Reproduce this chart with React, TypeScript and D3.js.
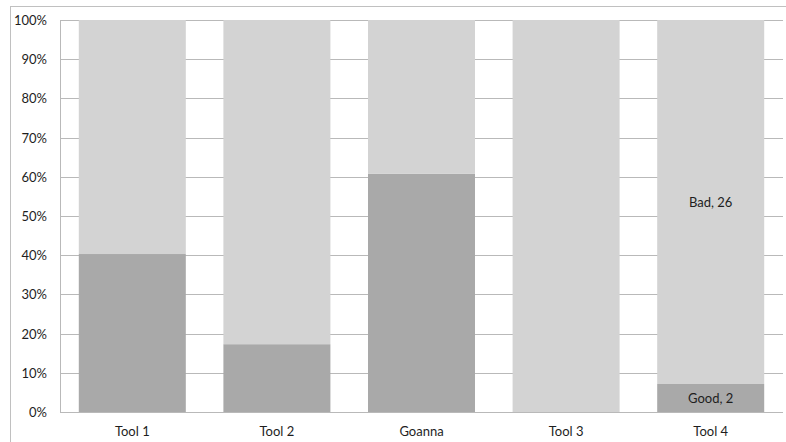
import React from "react";
import * as d3 from "d3";

// Tools compared and their good / bad result amounts (stacked to 100%)
const categories = ["Tool 1", "Tool 2", "Goanna", "Tool 3", "Tool 4"];
const goodValues = [40.3, 17.3, 60.8, 0, 2];
const badValues = [59.7, 82.7, 39.2, 100, 26];
const yTicks = [0, 0.1, 0.2, 0.3, 0.4, 0.5, 0.6, 0.7, 0.8, 0.9, 1];
// Only the last bar carries data labels
const labelledIndex = 4;

const W = 786;
const H = 442;
const margin = { left: 60, right: 3, top: 20, bottom: 30 };

const GOOD_COLOR = "#a9a9a9";
const BAD_COLOR = "#d3d3d3";
const GRID_COLOR = "#b9b9b9";
const FONT = "Lato, 'Open Sans', sans-serif";
const FONT_SIZE = 13;

export default function App() {
  const x = d3
    .scaleBand<string>()
    .domain(categories)
    .range([margin.left, W - margin.right])
    .paddingInner(0.26)
    .paddingOuter(0.13);
  const y = d3.scaleLinear().domain([0, 1]).range([H - margin.bottom, margin.top]);

  const rows = categories.map((c, i) => ({
    cat: c,
    good: goodValues[i],
    bad: badValues[i],
  }));
  const stack = d3
    .stack<{ cat: string; good: number; bad: number }>()
    .keys(["good", "bad"])
    .offset(d3.stackOffsetExpand);
  const series = stack(rows);
  const colors = [GOOD_COLOR, BAD_COLOR];
  const names = ["Good", "Bad"];

  const x0 = margin.left;
  const x1 = W - margin.right;

  return (
    <svg
      width={W}
      height={H}
      style={{ position: "absolute", left: 0, top: 0, background: "#fff" }}
      fontFamily={FONT}
    >
      {/* chart frame */}
      <rect x={10.5} y={6.5} width={W + 20} height={H + 20} fill="none" stroke="#c0c0c0" />

      {/* gridlines */}
      {yTicks.map((t) => (
        <line
          key={t}
          x1={x0}
          x2={x1}
          y1={Math.round(y(t)) + 0.5}
          y2={Math.round(y(t)) + 0.5}
          stroke={GRID_COLOR}
          strokeWidth={1}
        />
      ))}

      {/* bars */}
      {series.map((s, si) =>
        s.map((d, i) => {
          const top = y(d[1]);
          const bottom = y(d[0]);
          if (bottom - top <= 0) return null;
          return (
            <rect
              key={`${si}-${i}`}
              x={x(categories[i])}
              y={top}
              width={x.bandwidth()}
              height={bottom - top}
              fill={colors[si]}
            />
          );
        })
      )}

      {/* data labels */}
      {series.map((s, si) => {
        const d = s[labelledIndex];
        const cx = (x(categories[labelledIndex]) as number) + x.bandwidth() / 2;
        const cy = (y(d[0]) + y(d[1])) / 2;
        const v = si === 0 ? goodValues[labelledIndex] : badValues[labelledIndex];
        return (
          <text
            key={`lab-${si}`}
            x={cx}
            y={cy}
            textAnchor="middle"
            dominantBaseline="central"
            fontSize={FONT_SIZE}
            fill="#1e1e1e"
          >
            {`${names[si]}, ${v}`}
          </text>
        );
      })}

      {/* axes */}
      <line x1={x0 + 0.5} x2={x0 + 0.5} y1={y(1)} y2={y(0)} stroke={GRID_COLOR} />
      <line x1={x0} x2={x1} y1={Math.round(y(0)) + 0.5} y2={Math.round(y(0)) + 0.5} stroke={GRID_COLOR} />

      {yTicks.map((t) => (
        <text
          key={`yt-${t}`}
          x={47}
          y={y(t)}
          textAnchor="end"
          dominantBaseline="central"
          fontSize={FONT_SIZE}
          fill="#1e1e1e"
        >
          {d3.format(".0%")(t)}
        </text>
      ))}

      {categories.map((c) => (
        <text
          key={`xt-${c}`}
          x={(x(c) as number) + x.bandwidth() / 2}
          y={y(0) + 19}
          textAnchor="middle"
          dominantBaseline="central"
          fontSize={FONT_SIZE}
          fill="#1e1e1e"
        >
          {c}
        </text>
      ))}
    </svg>
  );
}
